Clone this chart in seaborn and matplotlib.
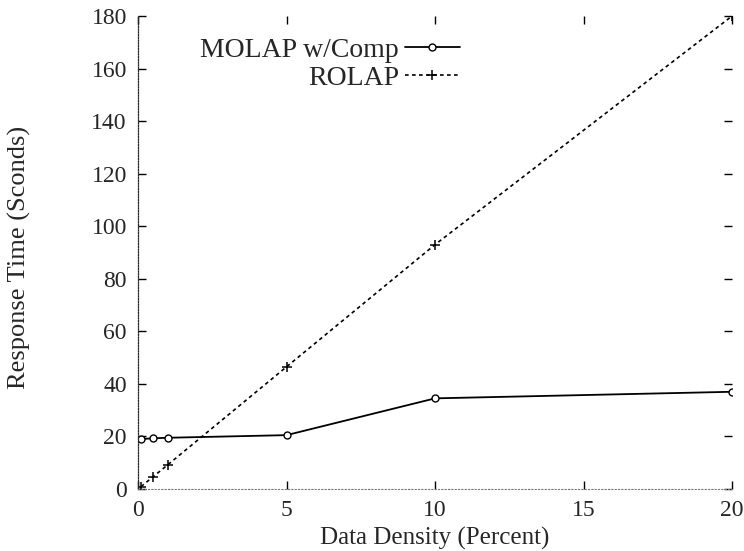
import pandas as pd
import numpy as np
import matplotlib
matplotlib.use("Agg")
import matplotlib.pyplot as plt
import seaborn as sns

# data
density = [0.1, 0.5, 1, 5, 10, 20]
molap_comp = [19.0, 19.3, 19.5, 20.5, 34.5, 37.0]
rolap = [0.9, 4.6, 9.2, 46.5, 93.0, 180.0]

x_ticks = [0, 5, 10, 15, 20]
y_ticks = [0, 20, 40, 60, 80, 100, 120, 140, 160, 180]

df = pd.DataFrame({
    'density': density * 2,
    'time': molap_comp + rolap,
    'series': ['MOLAP w/Comp'] * len(density) + ['ROLAP'] * len(density),
})

sns.set_style('ticks')
plt.rcParams['font.family'] = ['Liberation Serif', 'DejaVu Serif']

fig = plt.figure(figsize=(7.44, 5.51), dpi=100)
ax = fig.add_axes([0.1855, 0.1125, 0.7985, 0.8585])

sns.lineplot(data=df[df.series == 'MOLAP w/Comp'], x='density', y='time',
             color='black', linewidth=1.3, marker='o', markersize=5,
             markerfacecolor='white', markeredgecolor='black', markeredgewidth=1.0,
             label='MOLAP w/Comp', ax=ax)
sns.lineplot(data=df[df.series == 'ROLAP'], x='density', y='time',
             color='black', linewidth=1.2, linestyle=(0, (2.2, 2.0)),
             marker='+', markersize=7, markeredgewidth=1.1,
             markeredgecolor='black', markerfacecolor='black',
             label='ROLAP', ax=ax)

ax.set_xlim(0, 20)
ax.set_ylim(0, 180)
ax.set_xticks(x_ticks)
ax.set_yticks(y_ticks)
ax.tick_params(direction='in', length=6, width=1.0, color='black',
               top=True, right=True, labelsize=17, pad=8)

# gnuplot-like frame: dotted left/bottom border, only ticks on top/right
ax.spines['top'].set_visible(False)
ax.spines['right'].set_visible(False)
ax.spines['left'].set_linestyle((0, (1, 1.2)))
ax.spines['left'].set_linewidth(0.9)
ax.spines['bottom'].set_linestyle((0, (1, 2)))
ax.spines['bottom'].set_linewidth(0.8)
ax.spines['bottom'].set_color('#777777')

ax.set_xlabel('Data Density (Percent)', fontsize=18, labelpad=4)
ax.set_ylabel('Response Time (Sconds)', fontsize=19)
ax.yaxis.set_label_coords(-0.18, 0.49)

ax.legend(loc='upper right', bbox_to_anchor=(0.561, 0.978), frameon=False,
          markerfirst=False, fontsize=20, handlelength=2.0, handletextpad=0.2,
          labelspacing=0.1, borderaxespad=0)

fig.savefig('out.png', dpi=100)
